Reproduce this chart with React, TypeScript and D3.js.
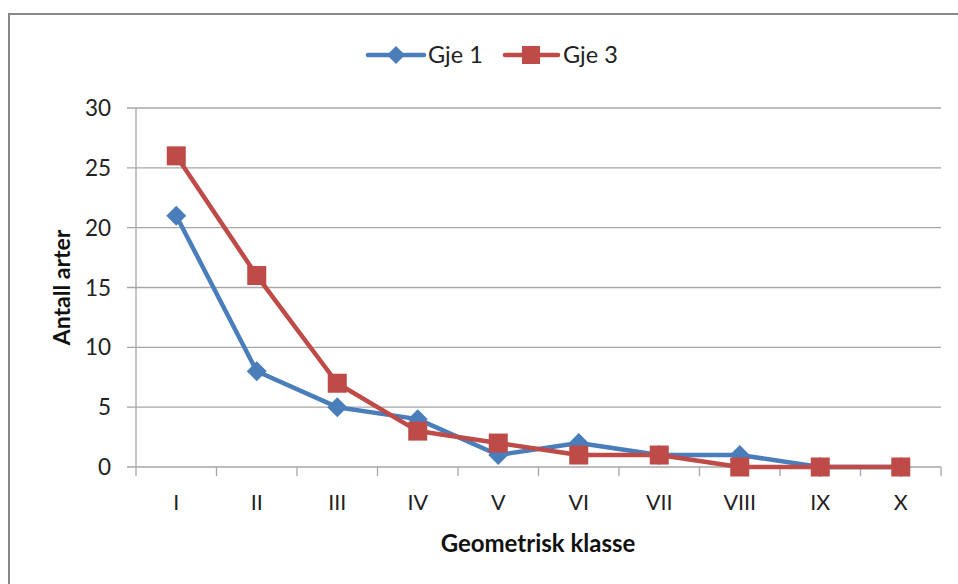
import React from 'react';
import * as d3 from 'd3';

const categories = ['I', 'II', 'III', 'IV', 'V', 'VI', 'VII', 'VIII', 'IX', 'X'];
const gje1 = [21, 8, 5, 4, 1, 2, 1, 1, 0, 0];
const gje3 = [26, 16, 7, 3, 2, 1, 1, 0, 0, 0];
const yTicks = [0, 5, 10, 15, 20, 25, 30];

const W = 958;
const H = 584;
const plot = { left: 136, right: 941, top: 108, bottom: 467 };
const font = 'Lato, "Open Sans", sans-serif';
const BLUE = '#4a7ebb';
const RED = '#be4b48';

export default function App() {
  const x = d3.scaleBand<string>().domain(categories).range([plot.left, plot.right]);
  const y = d3.scaleLinear().domain([0, 30]).range([plot.bottom, plot.top]);
  const cx = (c: string) => (x(c) as number) + x.bandwidth() / 2;

  const line = d3.line<number>()
    .x((_, i) => cx(categories[i]))
    .y(d => y(d));

  const diamond = (px: number, py: number, r: number) =>
    `M${px},${py - r}L${px + r},${py}L${px},${py + r}L${px - r},${py}Z`;

  return (
    <svg width={W} height={H} style={{ position: 'absolute', left: 0, top: 0 }}>
      <rect x={0} y={0} width={W} height={H} fill="#fff" />
      <rect x={9} y={14} width={W + 20} height={H + 20} fill="none" stroke="#888" strokeWidth={2} />

      {/* grid */}
      {yTicks.map(t => (
        <g key={t}>
          <line x1={plot.left - 9} x2={plot.right} y1={y(t)} y2={y(t)} stroke="#a6a6a6" strokeWidth={1.3} />
          <text x={111} y={y(t)} dy="0.36em" textAnchor="end" fontFamily={font} fontSize={22.5} fill="#222">{t}</text>
        </g>
      ))}
      <line x1={plot.left} x2={plot.left} y1={plot.top} y2={plot.bottom} stroke="#a6a6a6" strokeWidth={1.3} />
      {categories.map(c => (
        <line key={'t' + c} x1={(x(c) as number)} x2={(x(c) as number)} y1={plot.bottom} y2={plot.bottom + 9} stroke="#a6a6a6" strokeWidth={1.3} />
      ))}
      <line x1={plot.right} x2={plot.right} y1={plot.bottom} y2={plot.bottom + 9} stroke="#a6a6a6" strokeWidth={1.3} />
      {categories.map(c => (
        <text key={'l' + c} x={cx(c)} y={510} textAnchor="middle" fontFamily={font} fontSize={21.5} fill="#222">{c}</text>
      ))}

      {/* axis titles */}
      <text transform={`translate(70,${(plot.top + plot.bottom) / 2}) rotate(-90)`} textAnchor="middle"
        fontFamily={font} fontSize={23} fontWeight="bold" fill="#111">Antall arter</text>
      <text x={538} y={552} textAnchor="middle" fontFamily={font} fontSize={24} fontWeight="bold" fill="#111">Geometrisk klasse</text>

      {/* series */}
      <path d={line(gje1) || ''} fill="none" stroke={BLUE} strokeWidth={4.5} strokeLinejoin="round" />
      {gje1.map((v, i) => (
        <path key={'d' + i} d={diamond(cx(categories[i]), y(v), 10)} fill={BLUE} />
      ))}
      <path d={line(gje3) || ''} fill="none" stroke={RED} strokeWidth={4.5} strokeLinejoin="round" />
      {gje3.map((v, i) => (
        <rect key={'s' + i} x={cx(categories[i]) - 9.5} y={y(v) - 9.5} width={19} height={19} fill={RED} />
      ))}

      {/* legend */}
      <line x1={368} x2={424} y1={55} y2={55} stroke={BLUE} strokeWidth={4.5} strokeLinecap="round" />
      <path d={diamond(396, 55, 9)} fill={BLUE} />
      <text x={428} y={55} dy="0.36em" fontFamily={font} fontSize={23.5} fill="#222">Gje 1</text>
      <line x1={505} x2={558} y1={55} y2={55} stroke={RED} strokeWidth={4.5} strokeLinecap="round" />
      <rect x={522} y={46} width={18} height={18} fill={RED} />
      <text x={563} y={55} dy="0.36em" fontFamily={font} fontSize={23.5} fill="#222">Gje 3</text>
    </svg>
  );
}
